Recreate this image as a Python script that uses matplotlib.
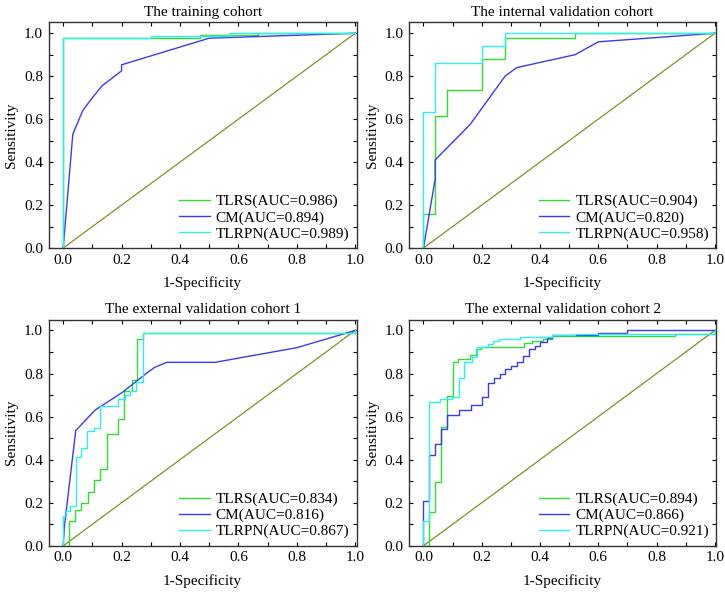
import numpy as np
import matplotlib
matplotlib.use('Agg')
import matplotlib.pyplot as plt
from matplotlib.ticker import MultipleLocator

plt.rcParams['font.family'] = ['Liberation Serif', 'DejaVu Serif']
plt.rcParams['font.size'] = 11

titles = ['The training cohort', 'The internal validation cohort',
          'The external validation cohort 1', 'The external validation cohort 2']
model_names = ['TLRS', 'CM', 'TLRPN']
auc_values = [[0.986, 0.894, 0.989],
              [0.904, 0.820, 0.958],
              [0.834, 0.816, 0.867],
              [0.894, 0.866, 0.921]]

# training cohort
train_tlrs_fpr = [0, 0, 0.467, 0.667, 1.0]
train_tlrs_tpr = [0, 0.977, 0.99, 1.0, 1.0]
train_cm_fpr = [0, 0.033, 0.067, 0.1, 0.133, 0.2, 0.2, 0.5, 1.0]
train_cm_tpr = [0, 0.53, 0.64, 0.70, 0.755, 0.825, 0.853, 0.977, 1.0]
train_tlrpn_fpr = [0, 0, 0.3, 0.567, 1.0]
train_tlrpn_tpr = [0, 0.977, 0.988, 1.0, 1.0]

# internal validation cohort
int_tlrs_fpr = [0, 0, 0.04, 0.08, 0.2, 0.28, 0.52, 1.0]
int_tlrs_tpr = [0, 0.16, 0.613, 0.735, 0.88, 0.98, 1.0, 1.0]
int_cm_fpr = [0, 0.04, 0.04, 0.16, 0.28, 0.32, 0.52, 0.6, 1.0]
int_cm_tpr = [0, 0.32, 0.41, 0.575, 0.80, 0.84, 0.90, 0.96, 1.0]
int_tlrpn_fpr = [0, 0, 0.04, 0.2, 0.28, 1.0]
int_tlrpn_tpr = [0, 0.632, 0.86, 0.94, 1.0, 1.0]

# external validation cohort 1
ext1_tlrs_fpr = [0, 0.02, 0.04, 0.061, 0.086, 0.107, 0.126, 0.149, 0.189, 0.208,
                 0.235, 0.252, 0.275, 1.0]
ext1_tlrs_tpr = [0, 0.117, 0.168, 0.2, 0.249, 0.305, 0.358, 0.521, 0.588, 0.72,
                 0.77, 0.96, 0.988, 1.0]
ext1_cm_fpr = [0, 0.005, 0.043, 0.109, 0.2, 0.29, 0.315, 0.355, 0.52, 0.8, 1.0]
ext1_cm_tpr = [0, 0.1, 0.535, 0.63, 0.71, 0.806, 0.83, 0.852, 0.852, 0.92, 1.0]
ext1_tlrpn_fpr = [0, 0, 0.01, 0.023, 0.043, 0.061, 0.082, 0.105, 0.126, 0.189,
                  0.21, 0.23, 0.25, 0.275, 1.0]
ext1_tlrpn_tpr = [0, 0.137, 0.16, 0.187, 0.414, 0.453, 0.533, 0.549, 0.65, 0.681,
                  0.70, 0.72, 0.76, 0.988, 1.0]

# external validation cohort 2
ext2_tlrs_fpr = [0, 0.02, 0.041, 0.06, 0.081, 0.1, 0.12, 0.16, 0.18, 0.196,
                 0.344, 0.373, 0.41, 0.44, 0.863, 1.0]
ext2_tlrs_tpr = [0, 0.157, 0.295, 0.554, 0.694, 0.852, 0.868, 0.884, 0.915, 0.925,
                 0.94, 0.95, 0.96, 0.975, 0.985, 1.0]
ext2_cm_fpr = [0, 0, 0.0205, 0.041, 0.06, 0.081, 0.122, 0.163, 0.2, 0.22, 0.241,
               0.263, 0.28, 0.3, 0.32, 0.341, 0.361, 0.382, 0.40, 0.424, 0.44,
               0.6, 0.7, 1.0]
ext2_cm_tpr = [0, 0.207, 0.42, 0.471, 0.544, 0.607, 0.631, 0.653, 0.692, 0.756,
               0.778, 0.798, 0.82, 0.837, 0.855, 0.88, 0.915, 0.93, 0.946, 0.964,
               0.98, 0.988, 1.0, 1.0]
ext2_tlrpn_fpr = [0, 0, 0.02, 0.058, 0.098, 0.121, 0.14, 0.168, 0.185, 0.22, 0.24,
                  0.259, 0.332, 0.44, 0.52, 1.0]
ext2_tlrpn_tpr = [0, 0.114, 0.666, 0.68, 0.69, 0.778, 0.853, 0.876, 0.922, 0.938,
                  0.949, 0.961, 0.969, 0.98, 0.985, 1.0]

curves = [
    [(train_tlrs_fpr, train_tlrs_tpr, 'steps-post'), (train_cm_fpr, train_cm_tpr, 'default'),
     (train_tlrpn_fpr, train_tlrpn_tpr, 'steps-post')],
    [(int_tlrs_fpr, int_tlrs_tpr, 'steps-post'), (int_cm_fpr, int_cm_tpr, 'default'),
     (int_tlrpn_fpr, int_tlrpn_tpr, 'steps-post')],
    [(ext1_tlrs_fpr, ext1_tlrs_tpr, 'steps-post'), (ext1_cm_fpr, ext1_cm_tpr, 'default'),
     (ext1_tlrpn_fpr, ext1_tlrpn_tpr, 'steps-post')],
    [(ext2_tlrs_fpr, ext2_tlrs_tpr, 'steps-post'), (ext2_cm_fpr, ext2_cm_tpr, 'steps-post'),
     (ext2_tlrpn_fpr, ext2_tlrpn_tpr, 'steps-post')],
]

colors = ['#2ee02e', '#3b3bf0', '#2ef0f0']
diag_color = '#8a8a2a'

fig = plt.figure(figsize=(7.25, 5.92), dpi=100)
# axes boxes in figure fractions: left, bottom, width, height
boxes = [(0.067, 0.581, 0.425, 0.381),
         (0.564, 0.581, 0.424, 0.381),
         (0.067, 0.078, 0.425, 0.382),
         (0.564, 0.078, 0.424, 0.382)]

for i in range(4):
    ax = fig.add_axes(boxes[i])
    ax.plot([0, 1], [0, 1], color=diag_color, lw=0.9)
    for j, (fx, ty, ds) in enumerate(curves[i]):
        ax.plot(fx, ty, drawstyle=ds, color=colors[j], lw=1.0,
                label=f'{model_names[j]}(AUC={auc_values[i][j]:.3f})')
    ax.set_xlim(-0.05, 1.005)
    ax.set_ylim(0, 1.05)
    ax.xaxis.set_major_locator(MultipleLocator(0.2))
    ax.xaxis.set_minor_locator(MultipleLocator(0.1))
    ax.yaxis.set_major_locator(MultipleLocator(0.2))
    ax.yaxis.set_minor_locator(MultipleLocator(0.1))
    ax.xaxis.set_major_formatter(matplotlib.ticker.FormatStrFormatter('%.1f'))
    ax.yaxis.set_major_formatter(matplotlib.ticker.FormatStrFormatter('%.1f'))
    ax.tick_params(which='both', direction='in', top=True, right=True,
                   length=3, width=0.8, labelsize=11, pad=4)
    for sp in ax.spines.values():
        sp.set_linewidth(1.0)
        sp.set_color('#333333')
    ax.set_title(titles[i], fontsize=11, pad=5)
    ax.set_xlabel('1-Specificity', fontsize=11, labelpad=7)
    ax.set_ylabel('Sensitivity', fontsize=11, labelpad=4)
    ax.legend(loc='lower right', frameon=False, fontsize=11, handlelength=2.0,
              handletextpad=0.4, labelspacing=0.15, borderaxespad=0.08)

fig.savefig('out.png', dpi=100)
